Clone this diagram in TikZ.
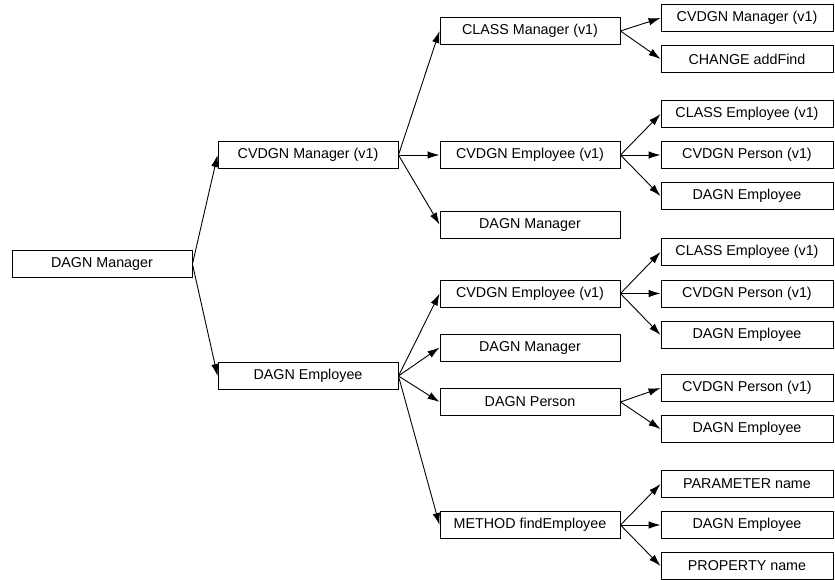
\documentclass[tikz,border=0pt]{standalone}
\usepackage{fontspec}
\setmainfont{Liberation Sans}
\usetikzlibrary{arrows.meta}
\tikzset{
  box/.style={draw, line width=0.9pt, rectangle, minimum height=27pt, inner sep=0pt, font=\fontsize{14.3}{16}\selectfont, anchor=center},
  wbox/.style={box, minimum width=180pt},
  nbox/.style={box, minimum width=172pt},
  edge/.style={line width=0.9pt, -{Latex[length=12pt,width=7.5pt]}}
}
\begin{document}
\begin{tikzpicture}[x=1pt,y=-1pt]
\useasboundingbox (0,0) rectangle (835,580);
% column 1
\node[wbox] (root) at (102,264) {DAGN Manager};
% column 2
\node[wbox] (cvm) at (308,155) {CVDGN Manager (v1)};
\node[wbox] (de) at (308,376) {DAGN Employee};
% column 3
\node[wbox] (clm) at (530,31) {CLASS Manager (v1)};
\node[wbox] (cve1) at (530,155) {CVDGN Employee (v1)};
\node[wbox] (dm1) at (530,224.5) {DAGN Manager};
\node[wbox] (cve2) at (530,293.5) {CVDGN Employee (v1)};
\node[wbox] (dm2) at (530,347.5) {DAGN Manager};
\node[wbox] (dp) at (530,402) {DAGN Person};
\node[wbox] (mfe) at (530,525) {METHOD findEmployee};
% column 4
\node[nbox] (a1) at (747,18) {CVDGN Manager (v1)};
\node[nbox] (a2) at (747,59) {CHANGE addFind};
\node[nbox] (b1) at (747,114) {CLASS Employee (v1)};
\node[nbox] (b2) at (747,155) {CVDGN Person (v1)};
\node[nbox] (b3) at (747,196) {DAGN Employee};
\node[nbox] (c1) at (747,252) {CLASS Employee (v1)};
\node[nbox] (c2) at (747,293.5) {CVDGN Person (v1)};
\node[nbox] (c3) at (747,335) {DAGN Employee};
\node[nbox] (d1) at (747,388) {CVDGN Person (v1)};
\node[nbox] (d2) at (747,429) {DAGN Employee};
\node[nbox] (e1) at (747,484) {PARAMETER name};
\node[nbox] (e2) at (747,525) {DAGN Employee};
\node[nbox] (e3) at (747,566) {PROPERTY name};
% edges
\foreach \s/\t in {root/cvm, root/de,
  cvm/clm, cvm/cve1, cvm/dm1,
  de/cve2, de/dm2, de/dp, de/mfe,
  clm/a1, clm/a2,
  cve1/b1, cve1/b2, cve1/b3,
  cve2/c1, cve2/c2, cve2/c3,
  dp/d1, dp/d2,
  mfe/e1, mfe/e2, mfe/e3}
  \draw[edge] (\s.east) -- (\t.west);
\end{tikzpicture}
\end{document}
